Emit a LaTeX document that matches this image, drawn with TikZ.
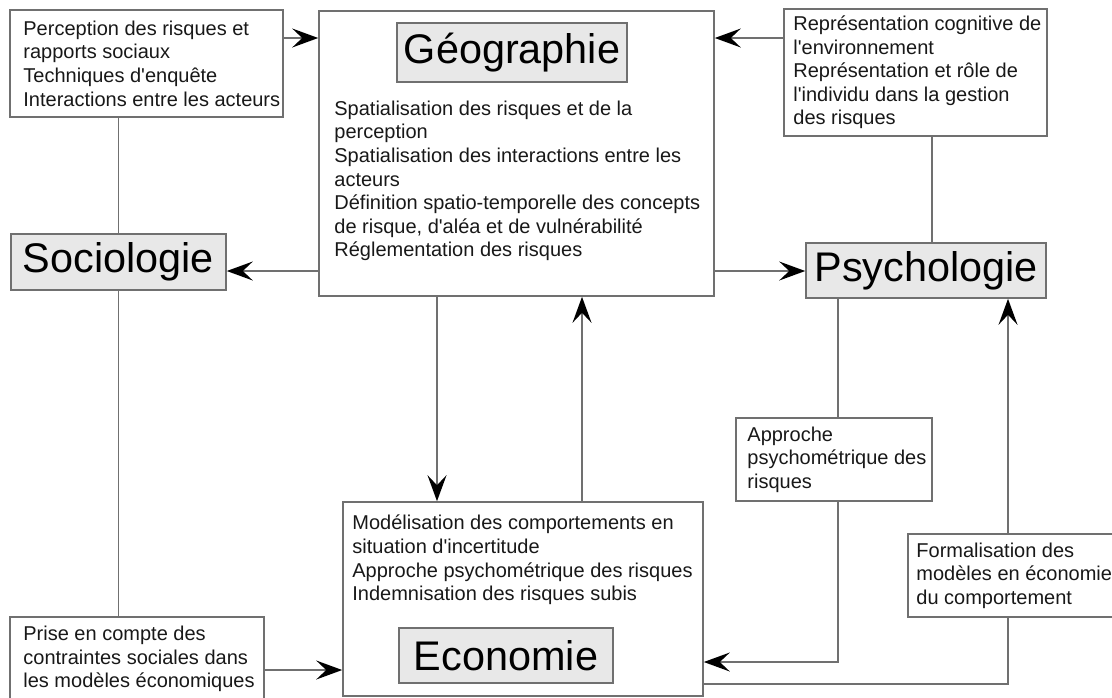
\documentclass[tikz,border=0pt]{standalone}
\usepackage{fontspec}
\setmainfont{Liberation Sans}
\usepackage{tikz}
\usetikzlibrary{arrows.meta}
\definecolor{linegray}{RGB}{112,112,112}
\definecolor{titlegray}{RGB}{232,232,232}
\definecolor{textgray}{RGB}{24,24,24}

\begin{document}
\begin{tikzpicture}[x=0.5pt, y=-0.5pt,
    box/.style={draw=linegray, line width=0.8pt, inner sep=0pt},
    titlebox/.style={box, fill=titlegray, font=\fontsize{20.7}{24}\selectfont},
    txt/.style={anchor=west, align=left, inner sep=0pt, text=textgray, font=\fontsize{10}{11.8}\selectfont},
    conn/.style={draw=linegray, line width=0.8pt},
    arr/.style={conn, -{Stealth[length=13pt, width=9.5pt, inset=5pt, color=black]}}]
    \useasboundingbox (0,0) rectangle (1112,697);

    \node[box, minimum width=197.5pt, minimum height=142.5pt] (geo) at (516.5,153.5) {};
    \node[titlebox, minimum width=115pt, minimum height=29.5pt] (geotitle) at (512,52.5) {Géographie};
    \node[txt] (geotext) at (334,181) {Spatialisation des risques et de la\\perception\\Spatialisation des interactions entre les\\acteurs\\Définition spatio-temporelle des concepts\\de risque, d\textquotesingle aléa et de vulnérabilité\\Réglementation des risques};

    \node[box, minimum width=180pt, minimum height=97pt] (econ) at (523,599) {};
    \node[txt] (econtext) at (352,560) {Modélisation des comportements en\\situation d\textquotesingle incertitude\\Approche psychométrique des risques\\Indemnisation des risques subis};
    \node[titlebox, minimum width=107pt, minimum height=27.5pt] (econtitle) at (506,655.5) {Economie};

    \node[titlebox, minimum width=107.5pt, minimum height=28pt] (soc) at (118.5,262) {Sociologie};
    \node[titlebox, minimum width=120pt, minimum height=27.5pt] (psy) at (926,270.5) {Psychologie};

    \node[box, minimum width=136.5pt, minimum height=53.5pt] (socnote) at (146.5,63.5) {};
    \node[txt] (socnotetext) at (23,63.5) {Perception des risques et\\rapports sociaux\\Techniques d\textquotesingle enquête\\Interactions entre les acteurs};

    \node[box, minimum width=131.5pt, minimum height=63.5pt] (psynote) at (915.5,72.5) {};
    \node[txt] (psynotetext) at (793,72.5) {Représentation cognitive de\\l\textquotesingle environnement\\Représentation et rôle de\\l\textquotesingle individu dans la gestion\\des risques};

    \node[box, minimum width=98pt, minimum height=41.5pt] (approche) at (834,459.5) {};
    \node[txt] (approchetext) at (747,459.5) {Approche\\psychométrique des\\risques};

    \node[box, minimum width=102.5pt, minimum height=41.5pt] (formal) at (1010.5,575.5) {};
    \node[txt] (formaltext) at (916,575.5) {Formalisation des\\modèles en économie\\du comportement};

    \node[box, minimum width=127pt, minimum height=41.5pt] (prise) at (137,658.5) {};
    \node[txt] (prisetext) at (23,659) {Prise en compte des\\contraintes sociales dans\\les modèles économiques};

    \coordinate (ytop) at (0,38);
    \coordinate (ymid) at (0,271);
    \coordinate (xnote) at (932,0);
    \coordinate (xdown) at (437,0);
    \coordinate (xup) at (582,0);
    \coordinate (yprise) at (0,670);
    \coordinate (xappr) at (838,0);
    \coordinate (yappr) at (0,662);
    \coordinate (xform) at (1008,0);
    \coordinate (yform) at (0,684);

    \draw[arr] (socnote.east |- ytop) -- (geo.west |- ytop);
    \draw[arr] (psynote.west |- ytop) -- (geo.east |- ytop);
    \draw[conn] (socnote.south -| soc.north) -- (soc.north);
    \draw[conn] (psynote.south -| xnote) -- (psy.north -| xnote);
    \draw[arr] (geo.west |- ymid) -- (soc.east |- ymid);
    \draw[arr] (geo.east |- ymid) -- (psy.west |- ymid);
    \draw[arr] (geo.south -| xdown) -- (econ.north -| xdown);
    \draw[arr] (econ.north -| xup) -- (geo.south -| xup);
    \draw[conn] (soc.south) -- (soc.south |- prise.north);
    \draw[arr] (prise.east |- yprise) -- (econ.west |- yprise);
    \draw[conn] (psy.south -| xappr) -- (approche.north -| xappr);
    \draw[arr] (approche.south -| xappr) |- (econ.east |- yappr);
    \draw[conn] (econ.east |- yform) -| (formal.south -| xform);
    \draw[arr] (formal.north -| xform) -- (psy.south -| xform);
\end{tikzpicture}
\end{document}
